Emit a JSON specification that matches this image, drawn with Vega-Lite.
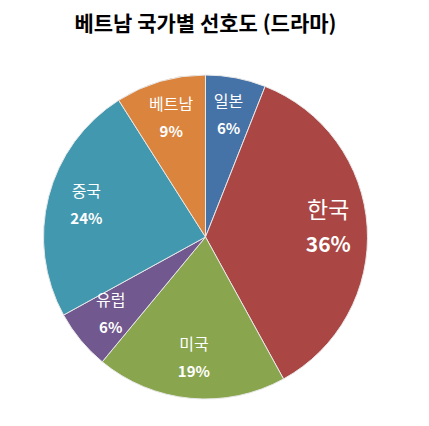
{
  "$schema": "https://vega.github.io/schema/vega-lite/v6.json",
  "autosize": "none",
  "width": 411,
  "height": 340,
  "padding": {"left": 0, "top": 67, "right": 18, "bottom": 19},
  "background": "white",
  "config": {"view": {"stroke": null}, "font": "Noto Sans CJK KR"},
  "title": {
    "text": "베트남 국가별 선호도 (드라마)",
    "fontSize": 21,
    "fontWeight": "bold",
    "color": "#000000",
    "font": "Noto Sans CJK KR",
    "anchor": "middle",
    "offset": 32
  },
  "data": {
    "values": [
      {"country": "일본", "value": 6, "pct": "6%"},
      {"country": "한국", "value": 36, "pct": "36%"},
      {"country": "미국", "value": 19, "pct": "19%"},
      {"country": "유럽", "value": 6, "pct": "6%"},
      {"country": "중국", "value": 24, "pct": "24%"},
      {"country": "베트남", "value": 9, "pct": "9%"}
    ]
  },
  "encoding": {
    "theta": {"field": "value", "type": "quantitative", "stack": true},
    "order": {"field": "order", "type": "quantitative"}
  },
  "transform": [{"window": [{"op": "row_number", "as": "order"}]}],
  "layer": [
    {
      "mark": {"type": "arc", "outerRadius": 162, "stroke": "#e8e8e8", "strokeWidth": 1},
      "encoding": {
        "color": {
          "field": "country",
          "type": "nominal",
          "sort": null,
          "scale": {
            "domain": ["일본", "한국", "미국", "유럽", "중국", "베트남"],
            "range": ["#4572A7", "#AA4643", "#89A54E", "#71588F", "#4198AF", "#DB843D"]
          },
          "legend": null
        }
      }
    },
    {
      "mark": {"type": "text", "radius": 123, "baseline": "bottom", "dy": -6, "color": "white", "font": "Noto Sans CJK KR"},
      "encoding": {
        "text": {"field": "country"},
        "size": {"condition": {"test": "datum.country === '한국'", "value": 23}, "value": 16}
      }
    },
    {
      "mark": {"type": "text", "radius": 123, "baseline": "top", "dy": 6, "color": "white", "fontWeight": "bold", "font": "Noto Sans CJK KR"},
      "encoding": {
        "text": {"field": "pct"},
        "size": {"condition": {"test": "datum.country === '한국'", "value": 21}, "value": 15}
      }
    }
  ]
}
